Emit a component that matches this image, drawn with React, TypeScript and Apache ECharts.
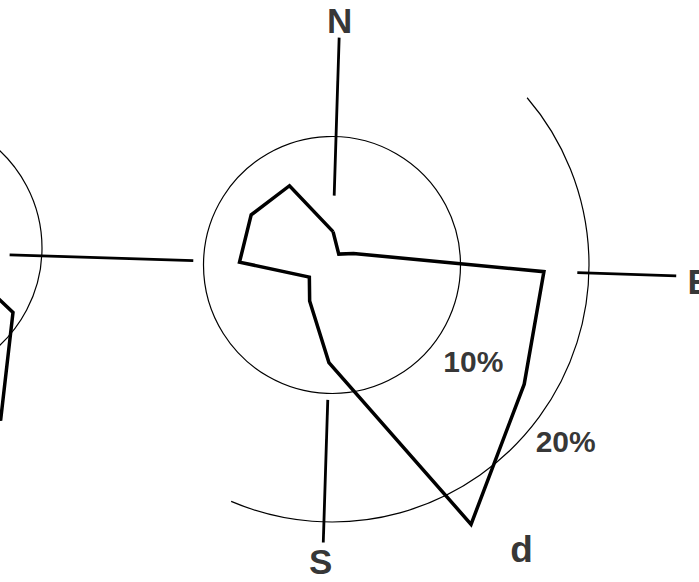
import React, { useEffect, useRef } from "react";
import * as echarts from "echarts";

// ---- data (percent frequency by bearing, degrees clockwise from north) ----
const BEARINGS_D = [0, 30, 60, 90, 120, 150, 180, 210, 240, 270, 300, 330];
const FREQ_D = [2.6, 1.0, 1.9, 16.5, 17.6, 22.9, 7.6, 3.3, 2.0, 7.2, 7.4, 7.0];

// neighbouring rose (only partly visible at the left edge)
const BEARINGS_C = [90, 120, 150, 180];
const FREQ_C = [2.8, 9.2, 14.6, 13.0];

// reference rings (percent)
const RINGS = [10, 20];
const RING_LABELS = ["10%", "20%"];
const RING_LABEL_BEARINGS = [122.4, 125.3];
const RING_LABEL_RADII = [13.3, 22.8];
const RING20_SPAN = [47.6, 201.3];

// compass arms
const ARM_BEARINGS = [0, 90, 180, 270];
const ARM_INNER = [5.4, 19.1, 10.5, 10.8];
const ARM_OUTER = [17.7, 26.8, 21.6, 25.1];
const ARM_LABELS = ["N", "E", "S"];
const ARM_LABEL_BEARINGS = [0, 90.7, 180.4];
const ARM_LABEL_RADII = [19.0, 28.6, 23.1];

const PANEL_LABEL = "d";
const PANEL_LABEL_POS = [26.6, 144.5];

// ---- layout ----
const CENTER_D = [332, 265];
const PX_PER_PCT_D = 12.85;
const CENTER_C = [-91, 248];
const PX_PER_PCT_C = 13.3;
const SCALE_MAX = 30;
const TILT = 1.8;
const START = 90 - TILT;
const INK = "#000";
const FONT = "Liberation Sans";

export default function App() {
  const ref = useRef<HTMLDivElement>(null);

  useEffect(() => {
    if (!ref.current) return;
    const chart = echarts.init(ref.current, null, { renderer: "svg" });

    const hiddenAngle = (polarIndex: number, extra: any = {}) => ({
      polarIndex,
      type: "value",
      min: 0,
      max: 360,
      startAngle: START,
      clockwise: true,
      axisLine: { show: false },
      axisTick: { show: false },
      axisLabel: { show: false },
      splitLine: { show: false },
      ...extra,
    });
    const hiddenRadius = (polarIndex: number, max: number) => ({
      polarIndex,
      type: "value",
      min: 0,
      max,
      axisLine: { show: false },
      axisTick: { show: false },
      axisLabel: { show: false },
      splitLine: { show: false },
    });
    const ringLine = { show: true, lineStyle: { color: INK, width: 1.2 } };

    const polygonD = BEARINGS_D.map((b, i) => [FREQ_D[i], b]);
    polygonD.push(polygonD[0]);
    const polygonC = BEARINGS_C.map((b, i) => [FREQ_C[i], b]);

    const armSeries = ARM_BEARINGS.map((b, i) => ({
      type: "line",
      coordinateSystem: "polar",
      polarIndex: 0,
      symbol: "none",
      silent: true,
      lineStyle: { color: INK, width: 2.8 },
      data: [
        [ARM_INNER[i], b],
        [ARM_OUTER[i], b],
      ],
    }));

    const labelItem = (text: string, r: number, b: number, size: number) => ({
      name: text,
      value: [r, b],
      label: {
        show: true,
        position: "inside",
        formatter: text,
        color: INK,
        fontFamily: FONT,
        fontWeight: "bold",
        fontSize: size,
        lineHeight: Math.round(size * 0.8),
        align: "center",
        verticalAlign: "middle",
      },
    });

    const labels = [
      ...ARM_LABELS.map((t, i) => labelItem(t, ARM_LABEL_RADII[i], ARM_LABEL_BEARINGS[i], 35)),
      ...RING_LABELS.map((t, i) => labelItem(t, RING_LABEL_RADII[i], RING_LABEL_BEARINGS[i], 30)),
      labelItem(PANEL_LABEL, PANEL_LABEL_POS[0], PANEL_LABEL_POS[1], 37),
    ];

    chart.setOption({
      animation: false,
      backgroundColor: "#ffffff",
      polar: [
        { center: CENTER_D, radius: SCALE_MAX * PX_PER_PCT_D },
        { center: CENTER_D, radius: RINGS[0] * PX_PER_PCT_D },
        { center: CENTER_D, radius: RINGS[1] * PX_PER_PCT_D },
        { center: CENTER_C, radius: SCALE_MAX * PX_PER_PCT_C },
        { center: CENTER_C, radius: RINGS[0] * PX_PER_PCT_C },
      ],
      angleAxis: [
        hiddenAngle(0),
        hiddenAngle(1, { axisLine: ringLine }),
        hiddenAngle(2, {
          min: RING20_SPAN[0],
          max: RING20_SPAN[1],
          startAngle: START - RING20_SPAN[0],
          endAngle: START - RING20_SPAN[1],
          axisLine: ringLine,
        }),
        hiddenAngle(3),
        hiddenAngle(4, { axisLine: ringLine }),
      ],
      radiusAxis: [
        hiddenRadius(0, SCALE_MAX),
        hiddenRadius(1, RINGS[0]),
        hiddenRadius(2, RINGS[1]),
        hiddenRadius(3, SCALE_MAX),
        hiddenRadius(4, RINGS[0]),
      ],
      series: [
        {
          type: "line",
          coordinateSystem: "polar",
          polarIndex: 0,
          symbol: "none",
          silent: true,
          lineStyle: { color: INK, width: 3.5, join: "miter" },
          data: polygonD,
        },
        {
          type: "line",
          coordinateSystem: "polar",
          polarIndex: 3,
          symbol: "none",
          silent: true,
          clip: false,
          lineStyle: { color: INK, width: 3.5, join: "miter" },
          data: polygonC,
        },
        ...armSeries,
        {
          type: "scatter",
          coordinateSystem: "polar",
          polarIndex: 0,
          symbolSize: 0,
          silent: true,
          itemStyle: { color: "transparent" },
          data: labels,
        },
      ],
    });

    return () => chart.dispose();
  }, []);

  return (
    <div
      ref={ref}
      style={{ position: "absolute", left: 0, top: 0, width: 699, height: 582 }}
    />
  );
}
